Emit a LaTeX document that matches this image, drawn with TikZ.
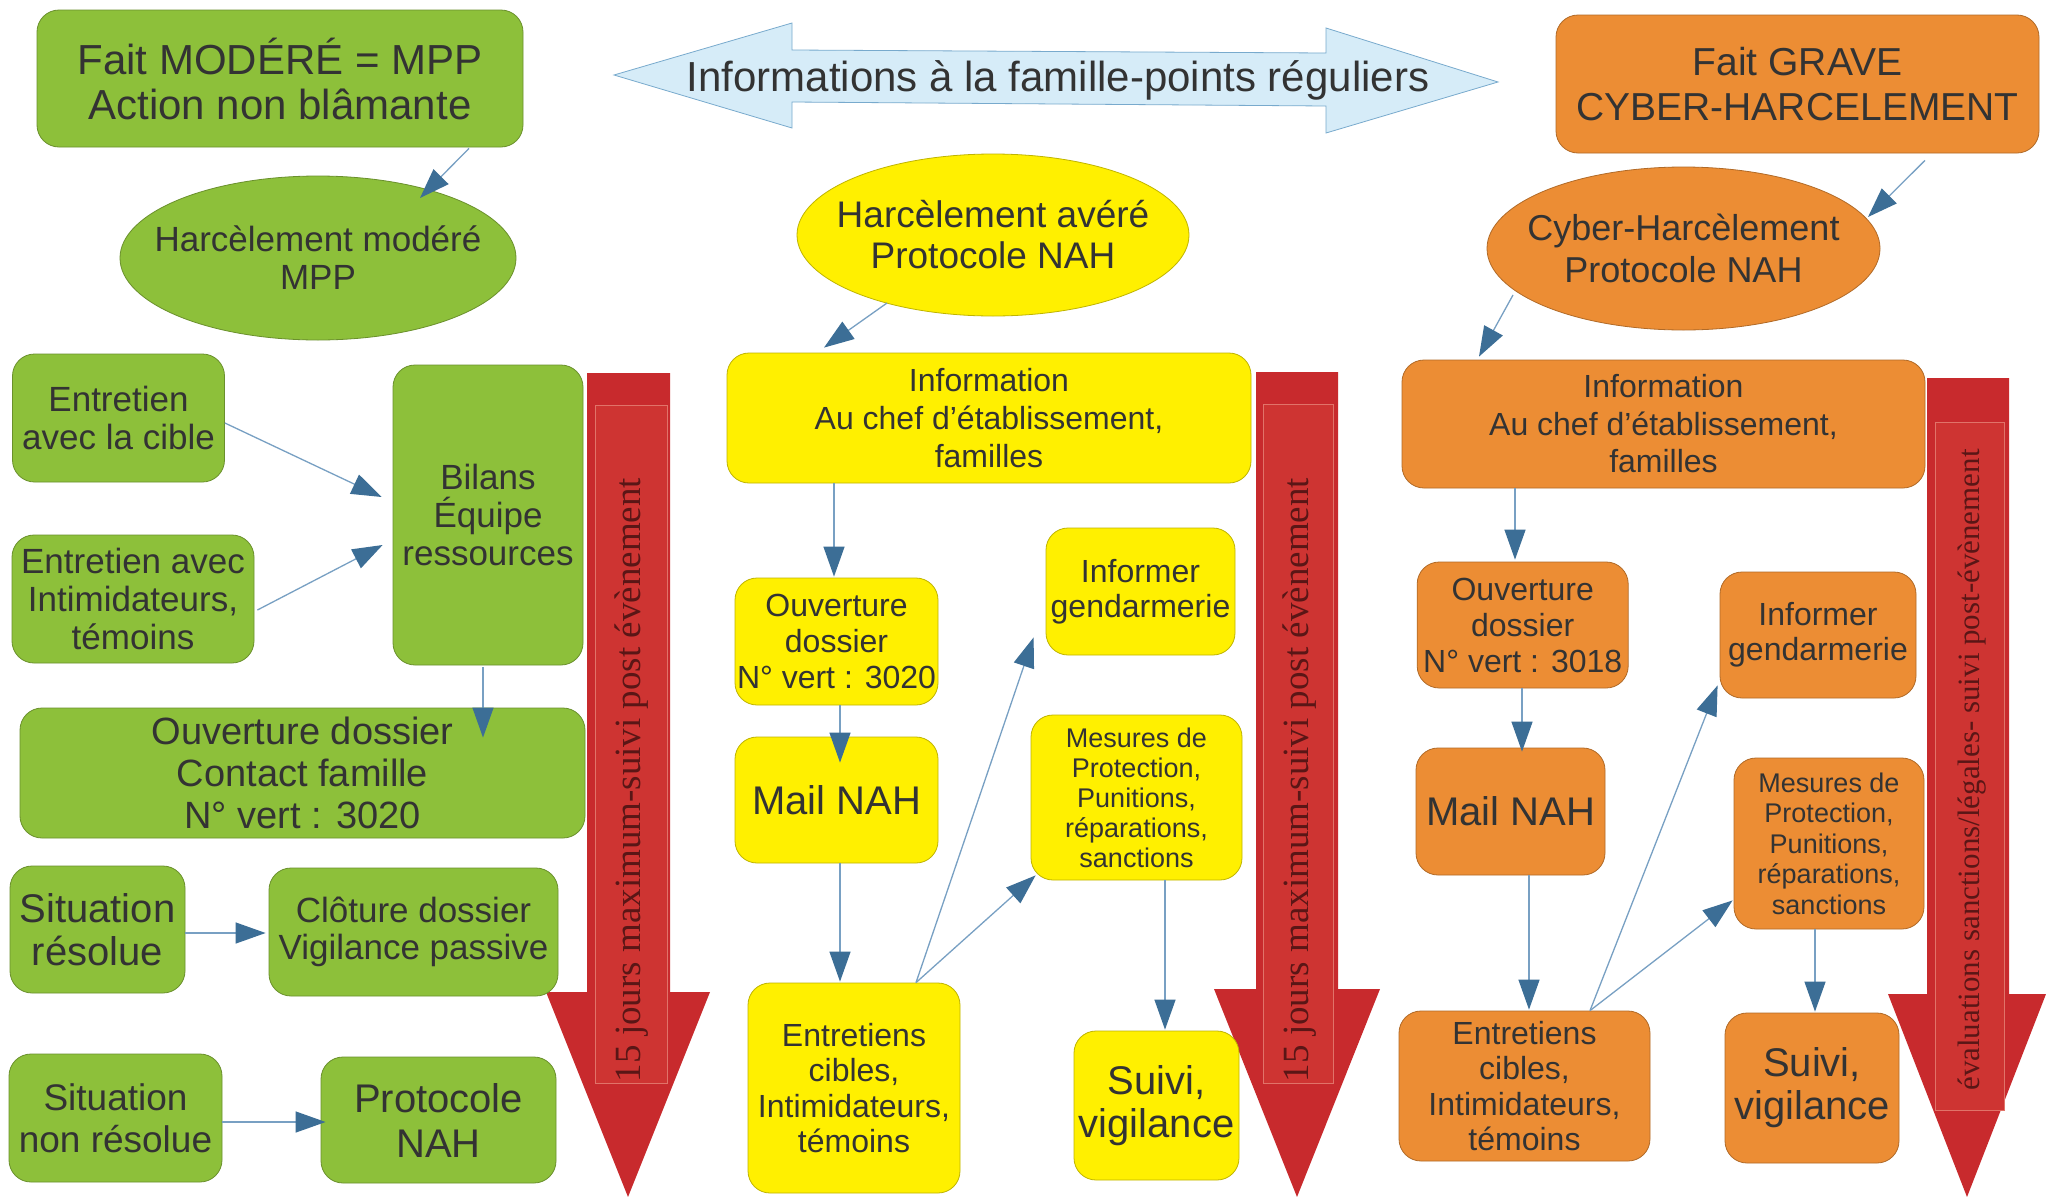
\documentclass[tikz,border=0pt]{standalone}
\usepackage{fontspec}
\setmainfont{Liberation Sans}
\newfontfamily\redserif{Liberation Serif}
\usetikzlibrary{arrows.meta,calc,shapes.geometric}
\definecolor{grn}{RGB}{141,192,58}
\definecolor{yel}{RGB}{255,240,0}
\definecolor{org}{RGB}{236,141,52}
\definecolor{txt}{RGB}{51,51,51}
\definecolor{lineblue}{RGB}{120,160,195}
\definecolor{headblue}{RGB}{60,110,150}
\definecolor{redarr}{RGB}{200,42,45}
\definecolor{redin}{RGB}{206,52,50}
\definecolor{redline}{RGB}{225,115,105}
\definecolor{redtxt}{RGB}{90,22,22}
\definecolor{skyfill}{RGB}{214,236,248}
\definecolor{skyline}{RGB}{120,170,205}
\begin{document}
\begin{tikzpicture}[x=1pt,y=-1pt,
  box/.style={draw=#1!75!black, line width=0.8pt, fill=#1, rounded corners=22pt, inner sep=0pt, align=center, text=txt},
  ell/.style={draw=#1!75!black, line width=0.8pt, fill=#1, ellipse, inner sep=0pt},
  etext/.style={inner sep=0pt, align=center, text=txt},
  fnt/.style 2 args={font=\fontsize{#1}{#2}\selectfont},
  wh/.style 2 args={minimum width=#1pt, minimum height=#2pt},
  conn/.style={draw=lineblue, line width=1.3pt, -{Triangle[length=30pt,width=21pt,fill=headblue,color=headblue]}},
  vtext/.style={rotate=90, text=redtxt, inner sep=0pt}
]
\useasboundingbox (0,0) rectangle (2046,1197);
\fill[white] (0,0) rectangle (2046,1197);

% ---- red vertical arrows
\fill[redarr] (587,373) -- (670,373) -- (670,992) -- (710,992) -- (628,1197) -- (546,992) -- (587,992) -- cycle;
\draw[redline, fill=redin, line width=0.6pt] (595,405) rectangle (667,1083);
\node[vtext, font=\redserif\fontsize{37}{40}\selectfont] (r1t) at (632,780) {15 jours maximum-suivi post évènement};

\fill[redarr] (1256,372) -- (1338,372) -- (1338,989) -- (1380,989) -- (1297,1197) -- (1214,989) -- (1256,989) -- cycle;
\draw[redline, fill=redin, line width=0.6pt] (1263,404) rectangle (1333,1083);
\node[vtext, font=\redserif\fontsize{37}{40}\selectfont] (r2t) at (1300,780) {15 jours maximum-suivi post évènement};

\fill[redarr] (1927,378) -- (2009,378) -- (2009,994) -- (2046,994) -- (1967,1197) -- (1888,994) -- (1927,994) -- cycle;
\draw[redline, fill=redin, line width=0.6pt] (1935,422) rectangle (2004,1110);
\node[vtext, font=\redserif\fontsize{31}{34}\selectfont] (r3t) at (1972,770) {évaluations sanctions/légales- suivi post-évènement};

% ---- double arrow
\draw[skyline, fill=skyfill, line width=0.8pt] (614,75) -- (792,23) -- (792,50) -- (1326,53) -- (1326,28) -- (1498,82) -- (1326,133) -- (1326,106) -- (792,102) -- (792,128) -- cycle;
\node[text=txt, fnt={42}{46}, inner sep=0pt] (infofam) at (1058,80) {Informations à la famille-points réguliers};

% ---- green column
\node[box=grn, wh={486}{137}, fnt={42}{45}] (faitmod) at (280,78.5) {Fait MODÉRÉ = MPP\\Action non blâmante};
\node[ell=grn, wh={396}{164}] (gell) at (318,258) {};
\node[etext, fnt={35}{38}] (gellt) at (gell.center) {Harcèlement modéré\\MPP};
\node[box=grn, wh={212}{128}, fnt={35}{38}] (entcible) at (118.5,418) {Entretien\\avec la cible};
\node[box=grn, wh={242}{128}, fnt={35}{38}] (entavec) at (133,599) {Entretien avec\\Intimidateurs,\\témoins};
\node[box=grn, wh={190}{300}, fnt={35}{38}] (bilans) at (488,515) {Bilans\\Équipe\\ressources};
\node[box=grn, wh={565}{130}, fnt={38}{42}] (ouvcont) at (302.5,773) {Ouverture dossier\\Contact famille\\N° vert : 3020};
\node[box=grn, wh={175}{127}, fnt={40}{43}] (sitres) at (97.5,929.5) {Situation\\résolue};
\node[box=grn, wh={289}{128}, fnt={35}{37}] (cloture) at (413.5,932) {Clôture dossier\\Vigilance passive};
\node[box=grn, wh={213}{128}, fnt={37}{42}] (sitnon) at (115.5,1118) {Situation\\non résolue};
\node[box=grn, wh={235}{126}, fnt={40}{45}] (protoc) at (438.5,1120) {Protocole\\NAH};

% ---- yellow column
\node[ell=yel, wh={392}{162}] (yell) at (993,235) {};
\node[etext, fnt={37}{41}] (yellt) at (yell.center) {Harcèlement avéré\\Protocole NAH};
\node[box=yel, wh={524}{130}, fnt={32}{38}] (infoY) at (989,418) {Information\\Au chef d’établissement,\\familles};
\node[box=yel, wh={203}{127}, fnt={32}{36}] (ouvY) at (836.5,641.5) {Ouverture\\dossier\\N° vert : 3020};
\node[box=yel, wh={203}{126}, fnt={40}{44}] (mailY) at (836.5,800) {Mail NAH};
\node[box=yel, wh={212}{210}, fnt={32}{35.5}] (entY) at (854,1088) {Entretiens\\cibles,\\Intimidateurs,\\témoins};
\node[box=yel, wh={189}{127}, fnt={32}{35}] (gendY) at (1140.5,591.5) {Informer\\gendarmerie};
\node[box=yel, wh={211}{165}, fnt={27}{30}] (mesY) at (1136.5,797.5) {Mesures de\\Protection,\\Punitions,\\réparations,\\sanctions};
\node[box=yel, wh={165}{149}, fnt={40}{43}] (suiviY) at (1156.5,1105.5) {Suivi,\\vigilance};

% ---- orange column
\node[box=org, wh={483}{138}, fnt={39}{45}] (faitgr) at (1797.5,84) {Fait GRAVE\\CYBER-HARCELEMENT};
\node[ell=org, wh={393}{163}] (oell) at (1683.5,248.5) {};
\node[etext, fnt={36}{42}] (oellt) at (oell.center) {Cyber-Harcèlement\\Protocole NAH};
\node[box=org, wh={523}{128}, fnt={32}{37.5}] (infoO) at (1663.5,424) {Information\\Au chef d’établissement,\\familles};
\node[box=org, wh={211}{126}, fnt={32}{36}] (ouvO) at (1522.7,625) {Ouverture\\dossier\\N° vert : 3018};
\node[box=org, wh={189}{127}, fnt={40}{44}] (mailO) at (1510.5,811.5) {Mail NAH};
\node[box=org, wh={251}{150}, fnt={32}{35.5}] (entO) at (1524.5,1086) {Entretiens\\cibles,\\Intimidateurs,\\témoins};
\node[box=org, wh={196}{126}, fnt={32}{35}] (gendO) at (1818,635) {Informer\\gendarmerie};
\node[box=org, wh={190}{171}, fnt={27}{30.5}] (mesO) at (1829,843.5) {Mesures de\\Protection,\\Punitions,\\réparations,\\sanctions};
\node[box=org, wh={174}{150}, fnt={40}{43}] (suiviO) at (1812,1088) {Suivi,\\vigilance};

% ---- connectors green
\draw[conn] ($(faitmod.south)+(189,1)$) -- ($(gell.center)+(102,-60)$);
\draw[conn] ($(entcible.east)+(0,5)$) -- ($(bilans.west)+(-11,-18)$);
\draw[conn] ($(entavec.east)+(3,11)$) -- ($(bilans.west)+(-10,30)$);
\draw[conn] ($(bilans.south)+(-5,2)$) -- ($(ouvcont.north)+(180.5,30)$);
\draw[conn] ($(sitres.east)+(0,3.5)$) -- ($(cloture.west)+(-3,1)$);
\draw[conn] ($(sitnon.east)+(0,4)$) -- ($(protoc.west)+(5,2)$);

% ---- connectors yellow
\draw[conn] ($(yell.center)+(-106,68)$) -- ($(infoY.north)+(-165,-5)$);
\draw[conn] ($(infoY.south)+(-155,0)$) -- ($(ouvY.north)+(-2.5,-1)$);
\draw[conn] ($(ouvY.south)+(3.5,0)$) -- ($(mailY.north)+(3.5,26)$);
\draw[conn] ($(mailY.south)+(3.5,0)$) -- ($(entY.north)+(-14,-1)$);
\draw[conn] ($(entY.north)+(62,0)$) -- ($(gendY.south west)+(-12,-18)$);
\draw[conn] ($(entY.north)+(62,0)$) -- ($(mesY.south west)+(5,-5)$);
\draw[conn] ($(mesY.south)+(28.5,0)$) -- ($(suiviY.north)+(8.5,-1)$);

% ---- connectors orange
\draw[conn] ($(faitgr.south)+(127.5,7)$) -- ($(oell.center)+(184.5,-31.5)$);
\draw[conn] ($(oell.center)+(-170.5,46.5)$) -- ($(infoO.north)+(-184.5,-3)$);
\draw[conn] ($(infoO.south)+(-148.5,0)$) -- ($(ouvO.north)+(-7.7,-2)$);
\draw[conn] ($(ouvO.south)+(-0.7,0)$) -- ($(mailO.north)+(11.5,4)$);
\draw[conn] ($(mailO.south)+(18.5,0)$) -- ($(entO.north)+(4.5,-1)$);
\draw[conn] ($(entO.north)+(65.5,0)$) -- ($(gendO.south west)+(-2,-13)$);
\draw[conn] ($(entO.north)+(65.5,0)$) -- ($(mesO.south west)+(-1,-29)$);
\draw[conn] ($(mesO.south)+(-14,0)$) -- ($(suiviO.north)+(3,-1)$);
\end{tikzpicture}
\end{document}
